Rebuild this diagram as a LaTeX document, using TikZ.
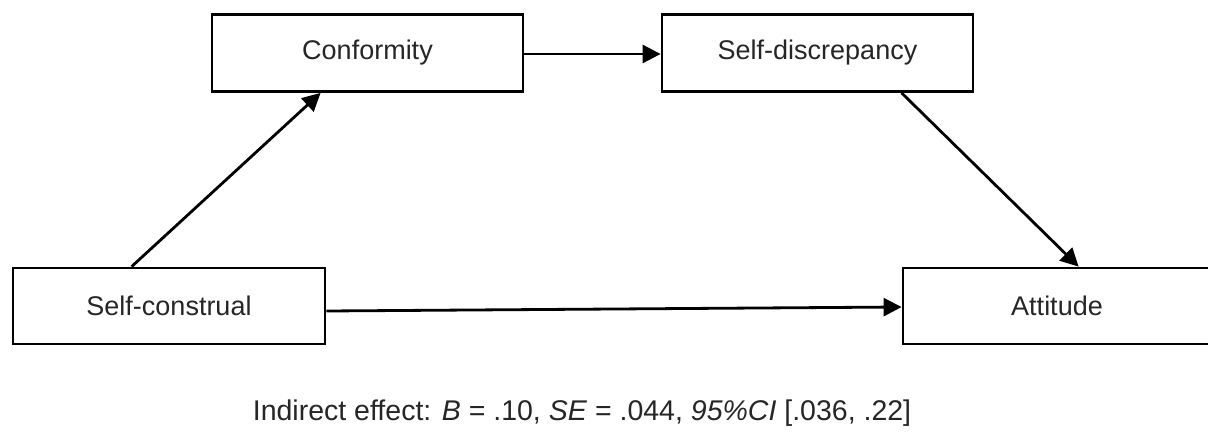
\documentclass[tikz,border=0pt]{standalone}
\usepackage{fontspec}
\setmainfont{Liberation Sans}
\usetikzlibrary{arrows.meta,calc}
\begin{document}
\begin{tikzpicture}[x=1pt,y=-1pt,
  box/.style={draw=black,line width=2.8pt,rectangle,inner sep=0pt,font=\fontsize{27}{32}\selectfont,text=black!85},
  arr/.style={line width=2.8pt,-{Triangle[length=18pt,width=18pt]}}]
\useasboundingbox[fill=white] (0,0) rectangle (1208,437);
\node[box,minimum width=311pt,minimum height=77pt] (cf) at (367.5,53) {Conformity};
\node[box,minimum width=311pt,minimum height=77pt] (sd) at (817.5,53) {Self-discrepancy};
\node[box,minimum width=312pt,minimum height=76pt] (sc) at (169,306) {Self-construal};
\node[box,minimum width=308pt,minimum height=76pt] (at) at (1057,306) {Attitude};
\draw[arr] ([xshift=120pt]sc.north west) -- ([xshift=110pt]cf.south west);
\draw[arr] ([yshift=-1pt]cf.east) -- ([yshift=-1pt]sd.west);
\draw[arr] ([xshift=241pt]sd.south west) -- ([xshift=177pt]at.north west);
\draw[arr] ([yshift=-5pt]sc.east) -- ([yshift=-1pt]at.west);
\node[font=\fontsize{28.5}{34}\selectfont,text=black!85] (ie) at (582,413) {Indirect effect: \textit{B} = .10, \textit{SE} = .044, \textit{95\%CI} [.036, .22]};
\end{tikzpicture}
\end{document}
